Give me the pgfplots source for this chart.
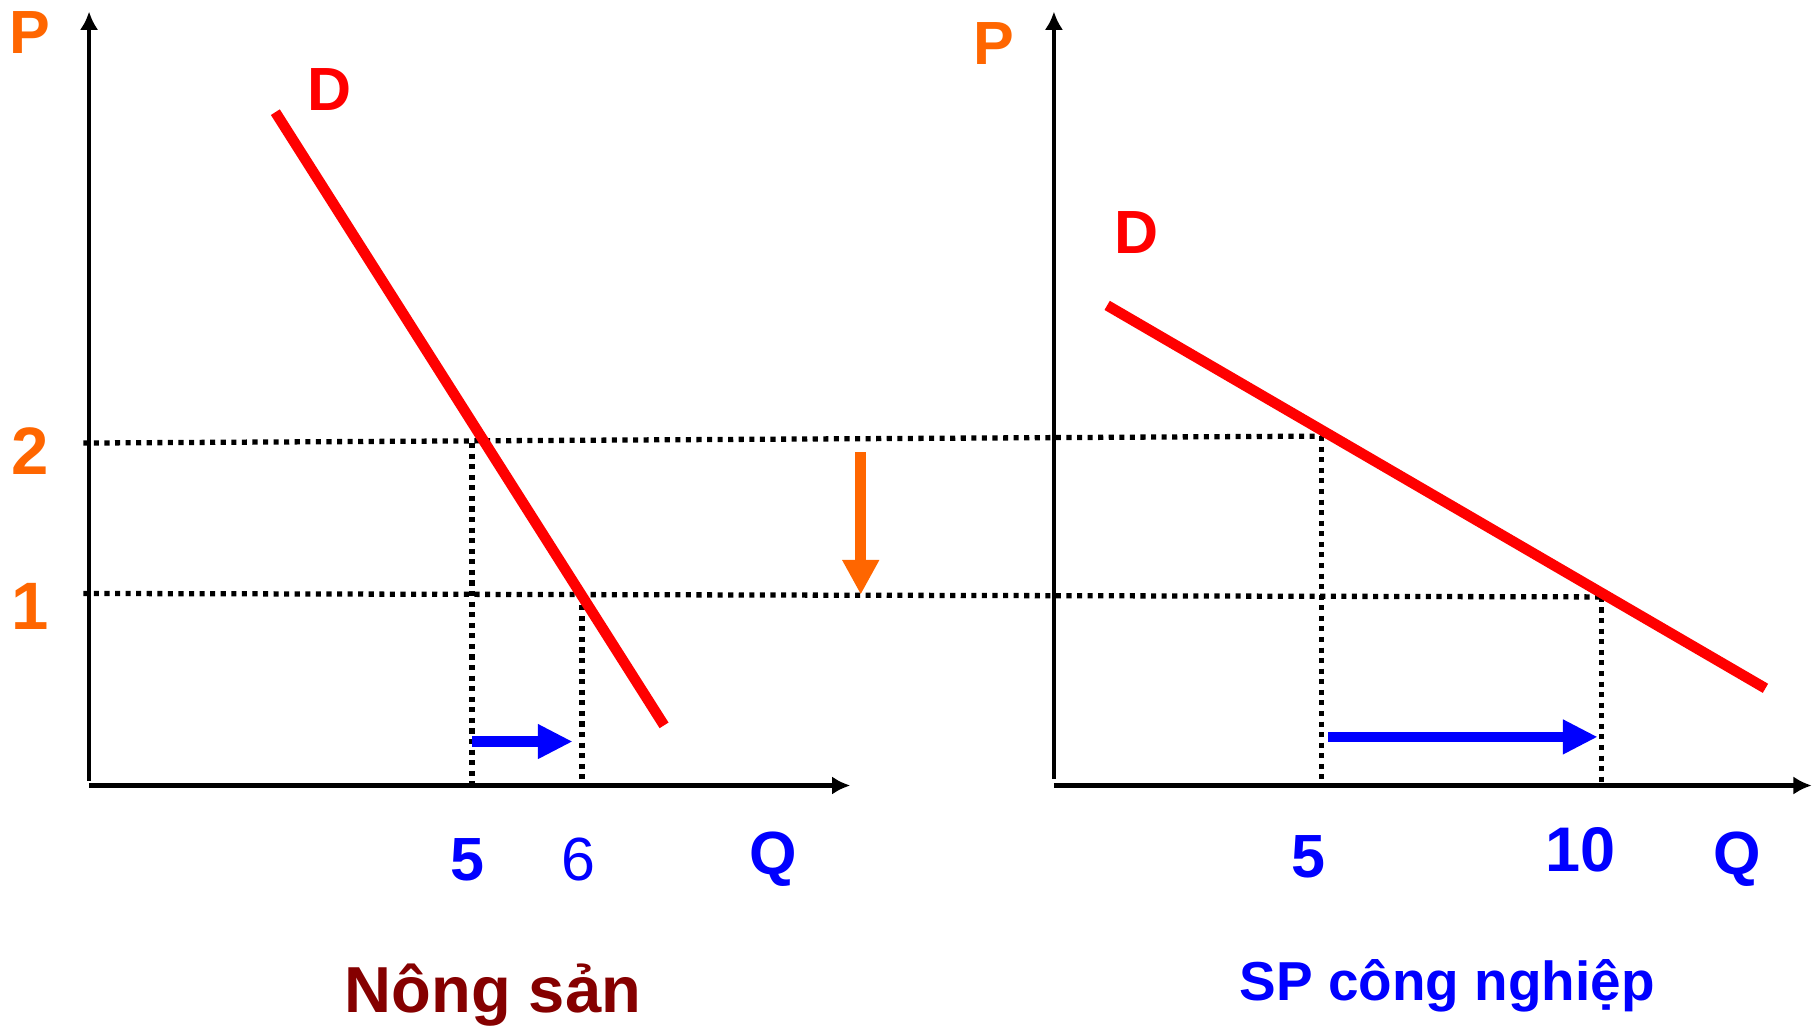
\documentclass[border=0pt]{standalone}
\usepackage{fontspec}
\setmainfont{Liberation Sans}
\usepackage{pgfplots}
\pgfplotsset{compat=1.18}
\usetikzlibrary{arrows.meta}
\definecolor{ora}{HTML}{FF6600}
\definecolor{blu}{HTML}{0000FF}
\definecolor{dred}{HTML}{850000}
\tikzset{
  dotline/.style={black, line width=1.3pt, dash pattern=on 1.25pt off 1.35pt},
  lbl/.style={font=\fontsize{15pt}{17pt}\selectfont\bfseries},
}
\begin{document}
\begin{tikzpicture}
\begin{axis}[
  at={(0,0)}, anchor=south west,
  scale only axis, width=15.68cm, height=8.93cm,
  xmin=0, xmax=1568, ymin=0, ymax=893,
  hide axis, clip=false,
]
% axes
\addplot[black, line width=1.1pt, -{Latex[length=4.5pt,width=4.5pt]}] coordinates {(77,218) (77,883)};
\addplot[black, line width=1.1pt, -{Latex[length=4.5pt,width=4.5pt]}] coordinates {(77,214) (735,214)};
\addplot[black, line width=1.1pt, -{Latex[length=4.5pt,width=4.5pt]}] coordinates {(911,220) (911,883)};
\addplot[black, line width=1.1pt, -{Latex[length=4.5pt,width=4.5pt]}] coordinates {(911,214) (1566,214)};
% price levels
\addplot[dotline] coordinates {(72,510) (1142,516)};
\addplot[dotline] coordinates {(72,380) (1384,377)};
% quantity drop lines
\addplot[dotline] coordinates {(408,510) (408,214)};
\addplot[dotline] coordinates {(503,379) (503,214)};
\addplot[dotline] coordinates {(1142,516) (1142,214)};
\addplot[dotline] coordinates {(1384,377) (1384,214)};
% demand curves
\addplot[red, line width=2.6pt] coordinates {(238,796) (574,266)};
\addplot[red, line width=2.6pt] coordinates {(957,629) (1526,298)};
% shift arrows
\addplot[ora, line width=2.6pt, -{Triangle[length=0.3cm,width=0.3cm]}] coordinates {(744,502) (744,379)};
\addplot[blu, line width=2.6pt, -{Triangle[length=0.3cm,width=0.28cm]}] coordinates {(408,252) (495,252)};
\addplot[blu, line width=2.6pt, -{Triangle[length=0.3cm,width=0.28cm]}] coordinates {(1148,256) (1381,256)};
% labels
\node[lbl, ora] at (axis cs:26,865) {P};
\node[lbl, ora] at (axis cs:859,855) {P};
\node[lbl, red] at (axis cs:285,816) {D};
\node[lbl, red] at (axis cs:982,692) {D};
\node[ora, font=\fontsize{16.5pt}{18pt}\selectfont\bfseries] at (axis cs:26,503) {2};
\node[ora, font=\fontsize{16.5pt}{18pt}\selectfont\bfseries] at (axis cs:26,369) {1};
\node[lbl, blu] at (axis cs:404,150) {5};
\node[blu, font=\fontsize{15pt}{17pt}\selectfont] at (axis cs:500,150) {6};
\node[lbl, blu] at (axis cs:668,150) {Q};
\node[lbl, blu] at (axis cs:1131,152) {5};
\node[blu, font=\fontsize{15.5pt}{17pt}\selectfont\bfseries] at (axis cs:1366,158) {10};
\node[lbl, blu] at (axis cs:1502,150) {Q};
\node[dred, font=\fontsize{16pt}{18pt}\selectfont\bfseries] at (axis cs:426,33) {Nông sản};
\node[blu, font=\fontsize{13.5pt}{15pt}\selectfont\bfseries] at (axis cs:1251,41) {SP công nghiệp};
\end{axis}
\pgfresetboundingbox
\path (0,0) rectangle (15.68cm,8.93cm);
\end{tikzpicture}
\end{document}
